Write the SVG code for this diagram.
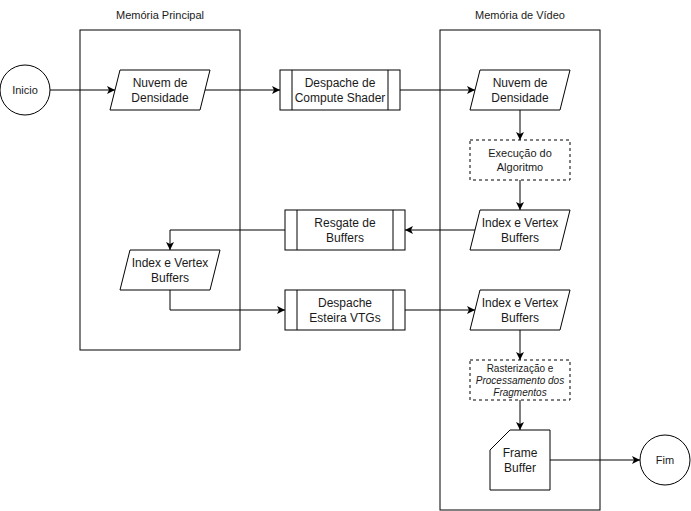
<svg xmlns="http://www.w3.org/2000/svg" width="691" height="511" viewBox="0 0 691 511">
<style>
.s{fill:#fff;stroke:#000;stroke-width:1}
.c{fill:none;stroke:#000;stroke-width:1}
.d{fill:#fff;stroke:#000;stroke-width:1;stroke-dasharray:3 3}
text{font-family:"Liberation Sans",Arial,sans-serif;font-size:12px;fill:#1a1a1a;text-anchor:middle}
.t{font-size:11px}
.sm{font-size:10px}
.it{font-style:italic}
</style>
<defs>
<marker id="a" markerWidth="10" markerHeight="10" refX="8" refY="4" orient="auto" markerUnits="userSpaceOnUse">
<path d="M0,0 L8,4 L0,8 L2,4 z" fill="#000"/>
</marker>
</defs>
<rect width="691" height="511" fill="#fff"/>
<g id="memoria-principal">
<rect class="s" x="80" y="30" width="160" height="320"/>
<text class="t" x="160" y="19">Memória Principal</text>
</g>
<g id="memoria-video">
<rect class="s" x="440" y="30" width="160" height="480"/>
<text class="t" x="520" y="19">Memória de Vídeo</text>
</g>
<g id="inicio">
<circle class="s" cx="25" cy="90" r="25"/>
<text class="t" x="25" y="94">Inicio</text>
</g>
<g id="nuvem-l">
<polygon class="s" points="120,70 210,70 200,110 110,110"/>
<text x="160" y="87.1">Nuvem de</text>
<text x="160" y="101.5">Densidade</text>
</g>
<g id="despache-compute">
<rect class="s" x="280" y="70" width="120" height="40"/>
<line class="c" x1="292" y1="70" x2="292" y2="110"/>
<line class="c" x1="388" y1="70" x2="388" y2="110"/>
<text x="340" y="87.1">Despache de</text>
<text x="340" y="101.5">Compute Shader</text>
</g>
<g id="nuvem-r">
<polygon class="s" points="480,70 570,70 560,110 470,110"/>
<text x="520" y="87.1">Nuvem de</text>
<text x="520" y="101.5">Densidade</text>
</g>
<g id="execucao">
<rect class="d" x="470" y="140" width="100" height="40"/>
<text class="t" x="520" y="157.4">Execução do</text>
<text class="t" x="520" y="170.6">Algoritmo</text>
</g>
<g id="index-r1">
<polygon class="s" points="480,210 570,210 560,250 470,250"/>
<text x="520" y="227.1">Index e Vertex</text>
<text x="520" y="241.5">Buffers</text>
</g>
<g id="resgate">
<rect class="s" x="285" y="210" width="120" height="40"/>
<line class="c" x1="297" y1="210" x2="297" y2="250"/>
<line class="c" x1="393" y1="210" x2="393" y2="250"/>
<text x="345" y="227.1">Resgate de</text>
<text x="345" y="241.5">Buffers</text>
</g>
<g id="index-l">
<polygon class="s" points="130,250 220,250 210,290 120,290"/>
<text x="170" y="267.1">Index e Vertex</text>
<text x="170" y="281.5">Buffers</text>
</g>
<g id="despache-esteira">
<rect class="s" x="285" y="290" width="120" height="40"/>
<line class="c" x1="297" y1="290" x2="297" y2="330"/>
<line class="c" x1="393" y1="290" x2="393" y2="330"/>
<text x="345" y="307.1">Despache</text>
<text x="345" y="321.5">Esteira VTGs</text>
</g>
<g id="index-r2">
<polygon class="s" points="480,290 570,290 560,330 470,330"/>
<text x="520" y="307.1">Index e Vertex</text>
<text x="520" y="321.5">Buffers</text>
</g>
<g id="rasterizacao">
<rect class="d" x="470" y="360" width="100" height="40"/>
<text class="sm" x="520" y="371.6">Rasterização e</text>
<text class="sm it" x="520" y="383.6">Processamento dos</text>
<text class="sm it" x="520" y="395.6">Fragmentos</text>
</g>
<g id="frame-buffer">
<path class="s" d="M510,430 L550,430 L550,490 L490,490 L490,450 Z"/>
<text x="520" y="457.1">Frame</text>
<text x="520" y="471.5">Buffer</text>
</g>
<g id="fim">
<circle class="s" cx="665" cy="460" r="25"/>
<text class="t" x="665" y="464">Fim</text>
</g>
<g id="connectors">
<path class="c" d="M50,90 H115" marker-end="url(#a)"/>
<path class="c" d="M205,90 H280" marker-end="url(#a)"/>
<path class="c" d="M400,90 H475" marker-end="url(#a)"/>
<path class="c" d="M520,110 V140" marker-end="url(#a)"/>
<path class="c" d="M520,180 V210" marker-end="url(#a)"/>
<path class="c" d="M475,230 H405" marker-end="url(#a)"/>
<path class="c" d="M285,230 H170 V250" marker-end="url(#a)"/>
<path class="c" d="M170,290 V310 H285" marker-end="url(#a)"/>
<path class="c" d="M405,310 H475" marker-end="url(#a)"/>
<path class="c" d="M520,330 V360" marker-end="url(#a)"/>
<path class="c" d="M520,400 V430" marker-end="url(#a)"/>
<path class="c" d="M550,460 H640" marker-end="url(#a)"/>
</g>
</svg>
